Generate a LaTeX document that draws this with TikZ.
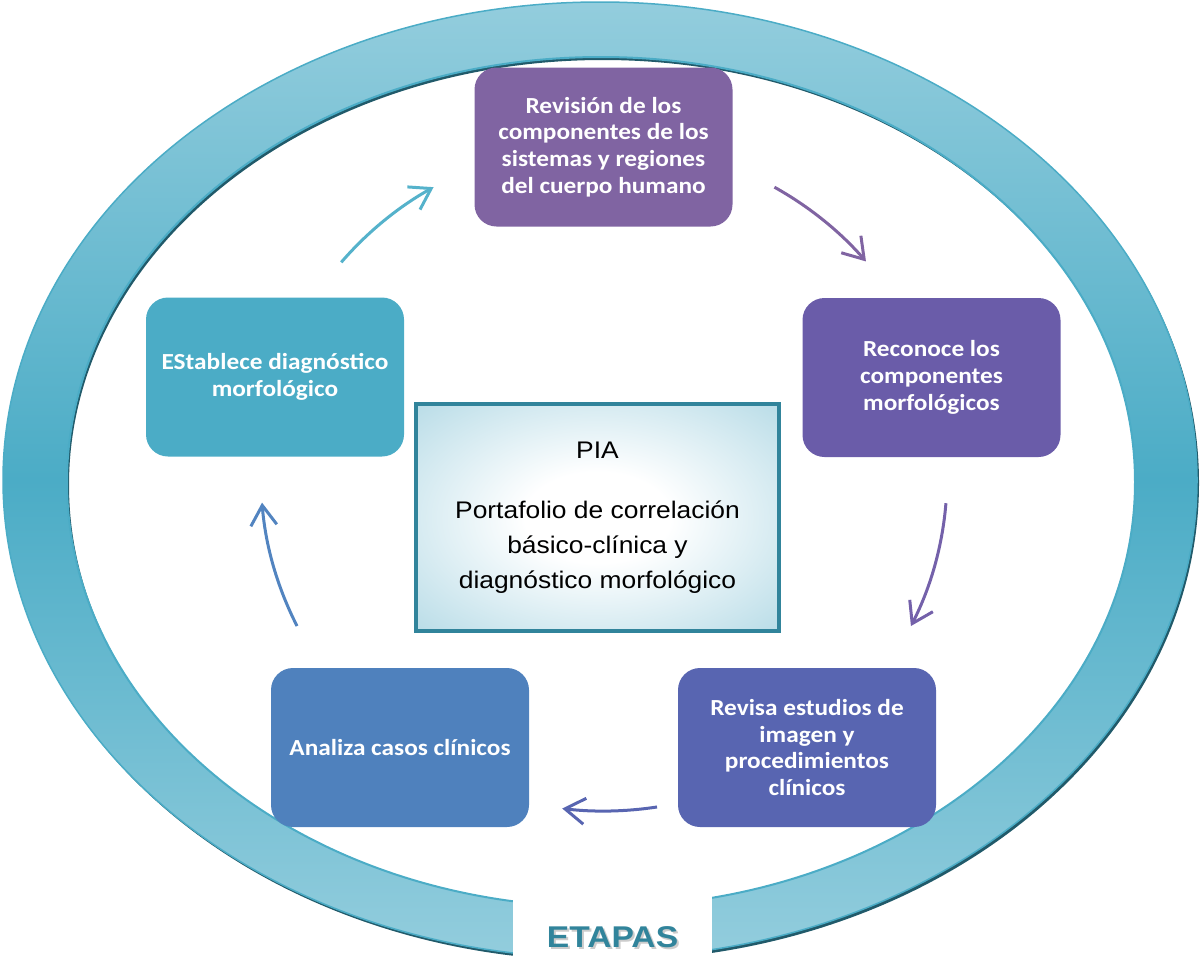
\documentclass[tikz,border=0pt]{standalone}
\usepackage{fontspec}
\usetikzlibrary{arrows.meta,shadings}
\newfontfamily\boxfont{Carlito}[FakeStretch=1.1]
\newfontfamily\arialfont{Liberation Sans}[FakeStretch=1.1]
\newfontfamily\etapasfont{Liberation Sans}[FakeStretch=1.12]
\definecolor{ringlight}{HTML}{93CDDD}
\definecolor{ringmid}{HTML}{4BACC6}
\definecolor{ringshadow}{HTML}{215A6A}
\definecolor{boxA}{HTML}{8064A2}
\definecolor{boxB}{HTML}{6A5CA9}
\definecolor{boxC}{HTML}{5865B1}
\definecolor{boxD}{HTML}{4F81BD}
\definecolor{boxE}{HTML}{4BACC6}
\definecolor{piaborder}{HTML}{31849B}
\definecolor{piablue}{HTML}{B2D9E5}
\definecolor{etapascol}{HTML}{31849B}
\definecolor{arrA}{HTML}{55B2CB}
\definecolor{arrB}{HTML}{8064A2}
\definecolor{arrC}{HTML}{7461AA}
\definecolor{arrD}{HTML}{5865B1}
\definecolor{arrE}{HTML}{5284C0}
\pgfdeclareradialshading{piaglow}{\pgfpoint{0bp}{0bp}}{color(0bp)=(white); color(10bp)=(white); color(38bp)=(piablue); color(50bp)=(piablue)}
\tikzset{
  stagebox/.style={rounded corners=22pt, minimum width=258pt, minimum height=159pt,
    inner sep=0pt, align=center, text=white,
    font=\boxfont\bfseries\fontsize{23}{26.7}\selectfont},
  cyclearrow/.style={line width=3pt, -{Straight Barb[length=20pt,width=26pt]}},
}
\begin{document}
\begin{tikzpicture}[x=1pt,y=1pt]
\useasboundingbox (0,0) rectangle (1200,-959);
% ring shadow
\fill[ringshadow, even odd rule, shift={(2pt,-3pt)}]
  (600,-480) ellipse[x radius=597pt, y radius=478pt]
  (601,-482) ellipse[x radius=534pt, y radius=425pt];
% ring
\shade[top color=ringlight, bottom color=ringlight, middle color=ringmid, even odd rule]
  (600,-480) ellipse[x radius=597pt, y radius=478pt]
  (601,-482) ellipse[x radius=534pt, y radius=425pt];
\draw[ringmid, line width=1.5pt] (600,-480) ellipse[x radius=597pt, y radius=478pt];
\draw[ringmid, line width=2pt] (601,-482) ellipse[x radius=534pt, y radius=425pt];
% gap
\fill[white] (513,-850) rectangle (712,-965);
% label
\node[font=\etapasfont\bfseries\fontsize{30}{34}\selectfont, text=black, opacity=0.2] at (614.5,-939) {ETAPAS};
\node[font=\etapasfont\bfseries\fontsize{30}{34}\selectfont, text=etapascol] (etapas) at (612.5,-937) {ETAPAS};
% stage boxes
\node[stagebox, fill=boxA] (top) at (603.5,-147) {Revisión de los\\componentes de los\\sistemas y regiones\\del cuerpo humano};
\node[stagebox, fill=boxB] (right) at (931.5,-377.5) {Reconoce los\\componentes\\morfológicos};
\node[stagebox, fill=boxC] (bright) at (807,-747.5) {Revisa estudios de\\imagen y\\procedimientos\\clínicos};
\node[stagebox, fill=boxD] (bleft) at (400,-747.5) {Analiza casos clínicos};
\node[stagebox, fill=boxE] (left) at (275,-377) {EStablece diagnóstico\\morfológico};
% center box
\node[draw=piaborder, line width=4pt, shading=piaglow, minimum width=363pt, minimum height=227pt,
  inner sep=0pt, align=center, font=\arialfont\fontsize{24}{35}\selectfont] (pia) at (597.5,-517.5)
  {PIA\\[25pt]Portafolio de correlación\\básico-clínica y\\diagnóstico morfológico};
% cycle arrows
\coordinate (c) at (604,-477);
\draw[cyclearrow, arrA] ([shift={(140:343pt and 334pt)}]c) arc[start angle=140, end angle=119.8, x radius=343pt, y radius=334pt];
\draw[cyclearrow, arrB] ([shift={(60.2:343pt and 334pt)}]c) arc[start angle=60.2, end angle=40.2, x radius=343pt, y radius=334pt];
\draw[cyclearrow, arrC] ([shift={(-4.5:343pt and 334pt)}]c) arc[start angle=-4.5, end angle=-26.5, x radius=343pt, y radius=334pt];
\draw[cyclearrow, arrD] ([shift={(-81.1:343pt and 334pt)}]c) arc[start angle=-81.1, end angle=-97, x radius=343pt, y radius=334pt];
\draw[cyclearrow, arrE] ([shift={(206.5:343pt and 334pt)}]c) arc[start angle=206.5, end angle=184.4, x radius=343pt, y radius=334pt];
\end{tikzpicture}
\end{document}
